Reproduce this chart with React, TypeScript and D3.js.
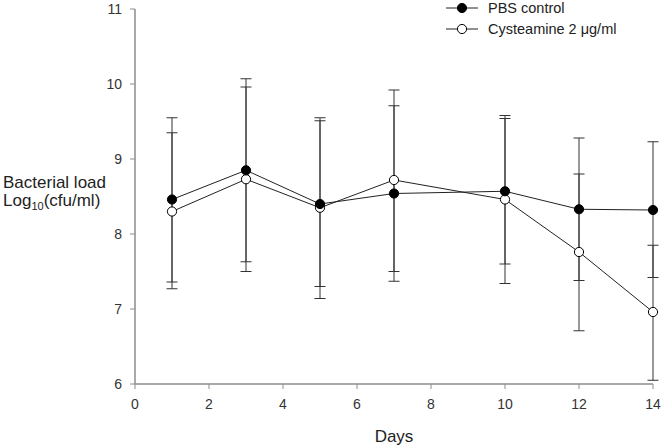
import React from "react";
import * as d3 from "d3";

const days = [1, 3, 5, 7, 10, 12, 14];
const pbsMean = [8.46, 8.85, 8.40, 8.54, 8.57, 8.33, 8.32];
const pbsUpper = [9.55, 10.07, 9.51, 9.71, 9.54, 9.28, 9.23];
const pbsLower = [7.36, 7.63, 7.30, 7.37, 7.60, 7.38, 7.42];
const cysMean = [8.30, 8.73, 8.35, 8.72, 8.46, 7.76, 6.96];
const cysUpper = [9.35, 9.96, 9.55, 9.92, 9.58, 8.80, 7.85];
const cysLower = [7.27, 7.50, 7.14, 7.50, 7.34, 6.71, 6.05];
const xTicks = [0, 2, 4, 6, 8, 10, 12, 14];
const yTicks = [6, 7, 8, 9, 10, 11];
const seriesNames = ["PBS control", "Cysteamine 2 \u03bcg/ml"];

export default function App() {
  const W = 664, H = 447;
  const x = d3.scaleLinear().domain([0, 14]).range([135, 653]);
  const y = d3.scaleLinear().domain([6, 11]).range([384, 9]);
  const font = "Liberation Sans, Arial, Helvetica, sans-serif";
  const axisColor = "#8c8c8c";
  const line = d3.line<[number, number]>().x(d => x(d[0])).y(d => y(d[1]));
  const series = [
    { mean: cysMean, up: cysUpper, lo: cysLower, fill: "#fff" },
    { mean: pbsMean, up: pbsUpper, lo: pbsLower, fill: "#000" },
  ];
  const cap = 5.5;
  return (
    <svg width={W} height={H} style={{ position: "absolute", left: 0, top: 0, background: "#fff" }} fontFamily={font}>
      {/* axes */}
      <line x1={x(0)} x2={x(0)} y1={y(11)} y2={y(6)} stroke={axisColor} strokeWidth={1.5} />
      <line x1={x(0)} x2={x(14)} y1={y(6)} y2={y(6)} stroke={axisColor} strokeWidth={1.5} />
      {yTicks.map(t => (
        <g key={"y" + t}>
          <line x1={x(0) - 5} x2={x(0)} y1={y(t)} y2={y(t)} stroke={axisColor} strokeWidth={1} />
          <text x={x(0) - 13} y={y(t)} dy="0.35em" textAnchor="end" fontSize={14} fill="#333">{t}</text>
        </g>
      ))}
      {xTicks.map(t => (
        <g key={"x" + t}>
          <line x1={x(t)} x2={x(t)} y1={y(6)} y2={y(6) + 5} stroke={axisColor} strokeWidth={1} />
          <text x={x(t)} y={409} textAnchor="middle" fontSize={14} fill="#333">{t}</text>
        </g>
      ))}
      <text x={x(7)} y={442} textAnchor="middle" fontSize={17} fill="#222">Days</text>
      <text x={3} y={188} fontSize={17} fill="#222">Bacterial load</text>
      <text x={3} y={206} fontSize={17} fill="#222">
        Log<tspan fontSize={11} dy={4}>10</tspan><tspan dy={-4}>(cfu/ml)</tspan>
      </text>
      {/* lines */}
      {series.map((s, i) => (
        <path key={"l" + i} d={line(days.map((d, j) => [d, s.mean[j]] as [number, number])) || ""} fill="none" stroke="#222" strokeWidth={1} />
      ))}
      {/* error bars */}
      {series.map((s, i) => (
        <g key={"e" + i} stroke="#333" strokeWidth={1}>
          {days.map((d, j) => (
            <g key={j}>
              <line x1={x(d)} x2={x(d)} y1={y(s.up[j])} y2={y(s.lo[j])} />
              <line x1={x(d) - cap} x2={x(d) + cap} y1={y(s.up[j])} y2={y(s.up[j])} />
              <line x1={x(d) - cap} x2={x(d) + cap} y1={y(s.lo[j])} y2={y(s.lo[j])} />
            </g>
          ))}
        </g>
      ))}
      {/* markers */}
      {series.map((s, i) => (
        <g key={"m" + i}>
          {days.map((d, j) => (
            <circle key={j} cx={x(d)} cy={y(s.mean[j])} r={4.6} fill={s.fill} stroke="#000" strokeWidth={1} />
          ))}
        </g>
      ))}
      {/* legend */}
      {seriesNames.map((n, i) => (
        <g key={"lg" + i} transform={`translate(0, ${8 + i * 21})`}>
          <line x1={446} x2={478} y1={0} y2={0} stroke="#222" strokeWidth={1} />
          <circle cx={462} cy={0} r={4.6} fill={i === 0 ? "#000" : "#fff"} stroke="#000" strokeWidth={1} />
          <text x={488} y={0} dy="0.35em" fontSize={14.5} fill="#222">{n}</text>
        </g>
      ))}
    </svg>
  );
}
